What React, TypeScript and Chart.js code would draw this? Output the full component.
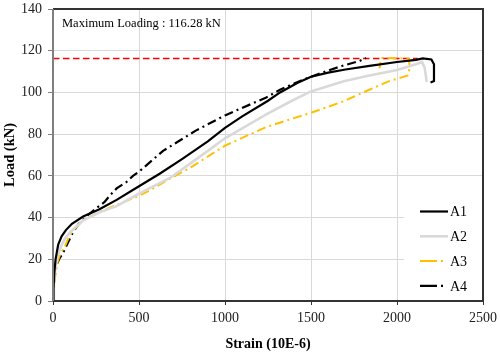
import React, { useEffect, useRef } from "react";
import { Chart, registerables } from "chart.js";

Chart.register(...registerables);

const seriesNames = ["A1", "A2", "A3", "A4"];

const a1Strain = [0, 3, 8, 15, 30, 50, 75, 110, 175, 270, 370, 500, 620, 750, 900, 1000, 1100, 1250, 1320, 1420, 1500, 1600, 1700, 1840, 2000, 2110, 2150, 2200, 2215, 2215, 2195];
const a1Load = [0, 6, 14, 20, 27, 31, 34, 37, 40.5, 44, 48.5, 55, 61, 68, 76.5, 83, 88.5, 96, 100, 104.5, 107.5, 109.5, 111, 112.7, 114.6, 115.6, 116.28, 115.8, 113.5, 105.5, 104.8];

const a2Strain = [0, 5, 12, 25, 45, 70, 100, 175, 270, 370, 500, 680, 850, 1000, 1240, 1400, 1500, 1690, 1840, 2000, 2110, 2145, 2160, 2168, 2172];
const a2Load = [0, 8, 15, 21, 26, 30, 33, 38.7, 42.5, 45.5, 51.5, 59, 69, 78, 89.5, 96.5, 100.5, 105.4, 108.1, 110.7, 113.5, 114.6, 112, 108, 105];

const a3Strain = [0, 5, 10, 18, 29, 45, 68, 97, 130, 174, 271, 368, 500, 562, 678, 800, 1000, 1237, 1393, 1500, 1684, 1839, 1955, 2000, 2062, 2075, 2068, 2000, 1910, 1903, 1898];
const a3Load = [0, 5, 10, 15, 19.5, 23, 26, 31.5, 35, 38.7, 42.7, 46, 50.5, 53, 58.5, 64, 74.5, 83.3, 87.5, 90.2, 95.6, 101.3, 105.4, 106.5, 108.1, 112, 116.2, 116.4, 116.5, 114, 111.5];

const a4Strain = [0, 4, 10, 20, 35, 58, 87, 116, 150, 200, 260, 300, 330, 370, 426, 465, 500, 640, 830, 1000, 1240, 1320, 1450, 1590, 1680, 1780, 1820];
const a4Load = [0, 6, 12, 17, 20, 23, 28, 33, 37, 41, 45, 47.5, 50.5, 54, 57, 60, 62, 72, 81.7, 89, 97.6, 101.3, 106, 110.2, 112.7, 115, 116.5];

const maxLoading = 116.28;
const maxLineStrain = [0, 2120];

const xMin = 0;
const xMax = 2500;
const xStep = 500;
const yMin = 0;
const yMax = 140;
const yStep = 20;

const FONT = "'Liberation Serif', 'Times New Roman', serif";

const toPoints = (xs: number[], ys: number[]) => xs.map((x, i) => ({ x, y: ys[i] }));

const decorPlugin = {
  id: "decor",
  afterDatasetsDraw(chart: any) {
    const { ctx, chartArea: a } = chart;
    ctx.save();

    // annotation text
    ctx.fillStyle = "#000";
    ctx.font = `12.5px ${FONT}`;
    ctx.textAlign = "left";
    ctx.textBaseline = "middle";
    ctx.fillText(`Maximum Loading : ${maxLoading} kN`, a.left + 9, a.top + 15);

    // legend
    const lx = a.right - 79;
    const ly = a.bottom - 106;
    ctx.fillStyle = "#fff";
    ctx.fillRect(lx, ly, a.right - lx - 1, a.bottom - ly - 1);
    const legendDs = chart.data.datasets.filter((d: any) => seriesNames.includes(d.label));
    legendDs.forEach((d: any, i: number) => {
      const y = a.bottom - 89.5 + i * 24.8;
      ctx.strokeStyle = d.borderColor;
      ctx.lineWidth = d.borderWidth;
      ctx.setLineDash(d.borderDash && d.borderDash.length ? [17, 4, 2, 20] : []);
      ctx.beginPath();
      ctx.moveTo(lx + 16, y);
      ctx.lineTo(lx + 44, y);
      ctx.stroke();
      ctx.setLineDash([]);
      ctx.fillStyle = "#000";
      ctx.font = `14px ${FONT}`;
      ctx.textAlign = "left";
      ctx.textBaseline = "middle";
      ctx.fillText(d.label, lx + 46, y + 1);
    });

    // frame
    ctx.lineWidth = 2;
    ctx.strokeStyle = "#333";
    ctx.beginPath();
    ctx.moveTo(a.left, a.top);
    ctx.lineTo(a.right, a.top);
    ctx.lineTo(a.right, a.bottom);
    ctx.lineTo(a.left, a.bottom);
    ctx.stroke();
    ctx.strokeStyle = "#7f7f7f";
    ctx.beginPath();
    ctx.moveTo(a.left, a.top);
    ctx.lineTo(a.left, a.bottom);
    ctx.stroke();
    ctx.restore();
  },
};

export default function App() {
  const ref = useRef<HTMLCanvasElement | null>(null);

  useEffect(() => {
    if (!ref.current) return;
    const dashDot = [9, 4, 2, 4];
    const chart = new Chart(ref.current, {
      type: "scatter",
      data: {
        datasets: [
          { label: seriesNames[0], data: toPoints(a1Strain, a1Load), showLine: true, borderColor: "#000000", borderWidth: 2.2, pointRadius: 0, borderDash: [] },
          { label: seriesNames[1], data: toPoints(a2Strain, a2Load), showLine: true, borderColor: "#d9d9d9", borderWidth: 2.6, pointRadius: 0, borderDash: [] },
          { label: seriesNames[2], data: toPoints(a3Strain, a3Load), showLine: true, borderColor: "#ffc000", borderWidth: 2, pointRadius: 0, borderDash: dashDot },
          { label: seriesNames[3], data: toPoints(a4Strain, a4Load), showLine: true, borderColor: "#000000", borderWidth: 2.2, pointRadius: 0, borderDash: dashDot },
          { label: "max", data: toPoints(maxLineStrain, [maxLoading, maxLoading]), showLine: true, borderColor: "#ff0000", borderWidth: 1.5, pointRadius: 0, borderDash: [6.5, 3.5] },
        ],
      } as any,
      options: {
        animation: false,
        responsive: false,
        devicePixelRatio: 1,
        layout: { padding: { top: 9, right: 17, left: 0, bottom: 0 } },
        plugins: { legend: { display: false }, tooltip: { enabled: false } },
        scales: {
          x: {
            type: "linear",
            min: xMin,
            max: xMax,
            afterFit: (s: any) => { s.height = 53; s.paddingRight = 0; s.paddingLeft = 0; },
            ticks: { stepSize: xStep, color: "#222", font: { family: FONT, size: 14 }, padding: 5, maxRotation: 0, callback: (v: any) => String(v) },
            grid: { color: "#d9d9d9", lineWidth: 1, tickColor: "#333", tickLength: 4 },
            border: { display: false },
            title: { display: true, text: "Strain (10E-6)", color: "#000", font: { family: FONT, size: 14, weight: "bold" }, padding: { top: 0, bottom: 1 } },
          },
          y: {
            type: "linear",
            min: yMin,
            max: yMax,
            afterFit: (s: any) => { s.width = 53; s.paddingTop = 0; s.paddingBottom = 0; },
            ticks: { stepSize: yStep, color: "#222", font: { family: FONT, size: 14 }, padding: 6, callback: (v: any) => String(v) },
            grid: { color: "#d9d9d9", lineWidth: 1, tickColor: "#7f7f7f", tickLength: 5 },
            border: { display: false },
            title: { display: true, text: "Load (kN)", color: "#000", font: { family: FONT, size: 14.5, weight: "bold" }, padding: { top: 2, bottom: 0 } },
          },
        },
      } as any,
      plugins: [decorPlugin],
    });
    return () => chart.destroy();
  }, []);

  return (
    <div style={{ position: "absolute", left: 0, top: 0, width: 500, height: 354, background: "#fff" }}>
      <canvas ref={ref} width={500} height={354} style={{ display: "block", width: 500, height: 354 }} />
    </div>
  );
}
